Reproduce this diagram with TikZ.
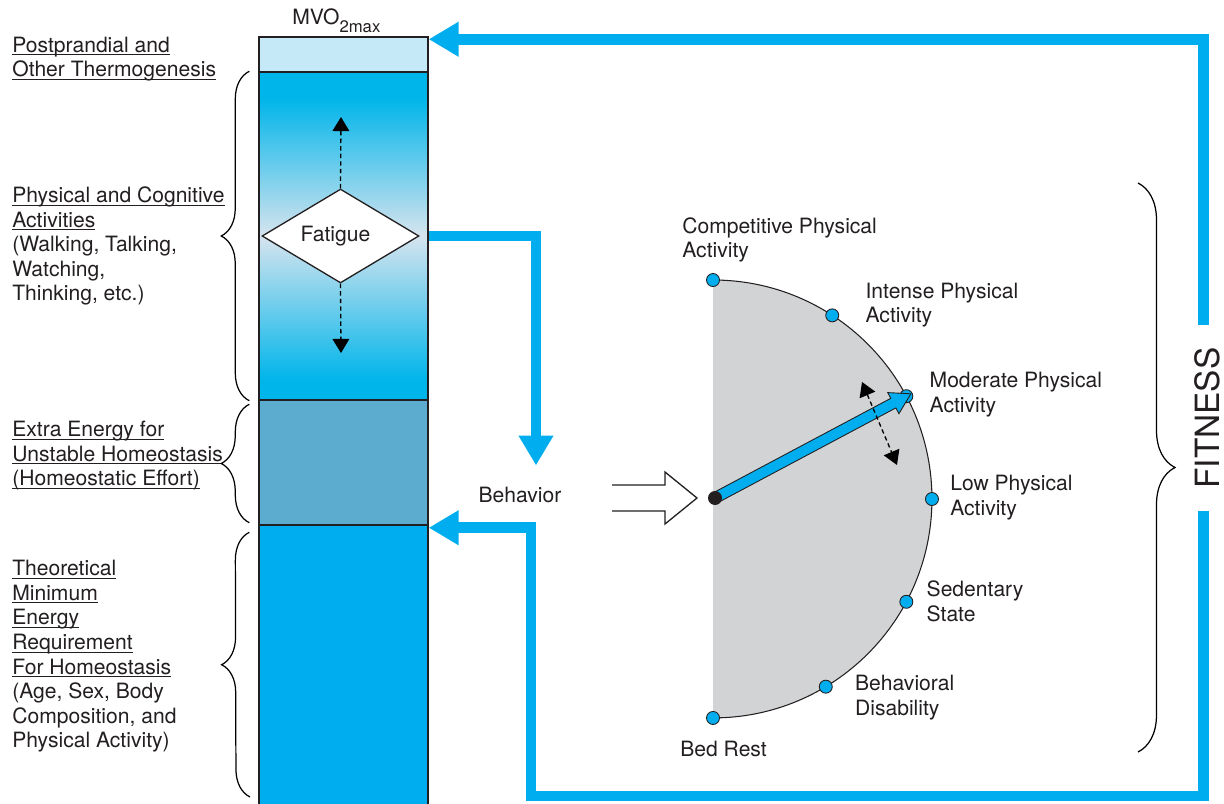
\documentclass[tikz,border=0pt]{standalone}
\usepackage{fontspec}
\setmainfont{TeX Gyre Heros}
\usepackage{tikz}
\usetikzlibrary{arrows.meta, positioning, calc, shapes.geometric, shapes.arrows, decorations.pathreplacing}
\usepackage{xcolor}

\definecolor{actcyan}{RGB}{0,181,234}
\definecolor{actpale}{RGB}{214,228,238}
\definecolor{thermoc}{RGB}{198,233,248}
\definecolor{extrac}{RGB}{91,172,207}
\definecolor{minc}{RGB}{0,173,238}
\definecolor{fitblue}{RGB}{0,174,239}
\definecolor{semig}{RGB}{209,211,212}
\definecolor{colline}{RGB}{35,31,32}

\pgfdeclareverticalshading{actshade}{100bp}{color(0bp)=(actcyan); color(28bp)=(actcyan);
  color(50bp)=(actpale); color(71bp)=(actcyan); color(100bp)=(actcyan)}

\newcommand{\uln}[1]{\underline{\smash{#1}}\vphantom{#1}}

\begin{document}
\begin{tikzpicture}[x=0.02cm, y=-0.02cm, font=\fontsize{12}{14}\selectfont, text=colline,
    colbox/.style={draw=colline,line width=0.85pt,minimum width=3.38cm,inner sep=0},
    txt/.style={align=left,inner sep=0,anchor=north west},
    fitarr/.style={draw=fitblue,line width=6pt,-{Triangle[length=17pt,width=18.7pt]}},
    dasharr/.style={line width=0.75pt,dash pattern=on 2.5pt off 1.8pt},
    stdot/.style={circle,draw=colline,fill=fitblue,minimum size=0.26cm,inner sep=0,line width=0.5pt},
    brc/.style={decorate,decoration={brace,amplitude=0.56cm},line width=0.7pt}]
    \useasboundingbox (0,0) rectangle (1224,804);

    % energy column
    \node[colbox,fill=thermoc,minimum height=0.7cm](thermo) at (343.5,54.5){};
    \node[colbox,shade,shading=actshade,minimum height=6.56cm](act) at (343.5,236){};
    \node[colbox,fill=extrac,minimum height=2.5cm](extra) at (343.5,462.5){};
    \node[colbox,fill=minc,minimum height=5.9cm](minreq) at (343.5,672.5){};
    \node[anchor=base west,inner sep=0](mvo) at (292,25){MVO\raisebox{-4pt}{\fontsize{9.5}{10}\selectfont 2max}};

    \node[diamond,draw=colline,fill=white,aspect=1.67,minimum width=3.14cm,minimum height=1.88cm,
      inner sep=0,line width=0.75pt](fatigue) at (340.5,236){Fatigue\hspace*{0.2cm}};
    \coordinate (fatup) at (341,117);
    \coordinate (fatdn) at (341,353);
    \draw[dasharr,-{Triangle[length=8pt,width=9.5pt]}](fatigue.north)--(fatup);
    \draw[dasharr,-{Triangle[length=8pt,width=9.5pt]}](fatigue.south)--(fatdn);

    % left labels
    \node[txt](tthermo) at (12,36.5){\uln{Postprandial and}\\\uln{Other Thermogenesis}};
    \node[txt](tact) at (12,186.5){\uln{Physical and Cognitive}\\\uln{Activities}\\(Walking, Talking,\\Watching,\\Thinking, etc.)};
    \node[txt](textra) at (12,421){\uln{Extra Energy for}\\\uln{Unstable Homeostasis}\\\uln{(Homeostatic Effort)}};
    \node[txt](tmin) at (12,560){\uln{Theoretical}\\\uln{Minimum}\\\uln{Energy}\\\uln{Requirement}\\\uln{For Homeostasis}\\(Age, Sex, Body\\Composition, and\\Physical Activity)};
    \draw[brc]([xshift=-0.18cm]act.south west)--([xshift=-0.18cm]act.north west);
    \draw[brc]([shift={(-9,-3)}]extra.south west)--([shift={(-9,5)}]extra.north west);
    \draw[brc](250,797)--([shift={(-9,8)}]minreq.north west);

    % behaviour
    \node[anchor=base](beh) at (520,502){Behavior};
    \coordinate (holtip) at (697,498);
    \draw[colline,line width=0.75pt,line join=miter](holtip)++(-85,-13)--++(53,0)--++(0,-13)--(holtip)
      --++(-32,26)--++(0,-13)--++(-53,0);

    % activity semicircle
    \coordinate (ctr) at (713,499);
    \fill[semig](ctr)++(0,-219) arc[start angle=90,end angle=-90,radius=4.38cm]--cycle;
    \draw[line width=0.6pt,colline](ctr)++(0,-219) arc[start angle=90,end angle=-90,radius=4.38cm];
    \foreach \ang/\nm in {90/comp,57/int,28/mod,0/low,-28/sed,-59/dis,-90/bed}
      \node[stdot](d\nm) at ($(ctr)+(\ang:4.38cm)$){};

    \node[txt](lcomp) at ($(dcomp)+(-31,-63)$){Competitive Physical\\Activity};
    \node[txt](lint) at ($(dint)+(33,-33)$){Intense Physical\\Activity};
    \node[txt](lmod) at ($(dmod)+(23,-24)$){Moderate Physical\\Activity};
    \node[txt](llow) at ($(dlow)+(18,-24)$){Low Physical\\Activity};
    \node[txt](lsed) at ($(dsed)+(20,-21)$){Sedentary\\State};
    \node[txt](ldis) at ($(ddis)+(29,-12)$){Behavioral\\Disability};
    \node[txt](lbed) at ($(dbed)+(-33,23)$){Bed Rest};

    \coordinate (piv) at (715,498);
    \path(piv)--(dmod.center) node[midway,sloped,single arrow,draw=colline,fill=fitblue,line width=0.5pt,
      inner sep=0.1cm,minimum height=4.36cm,single arrow head extend=0.13cm,single arrow tip angle=62]{};
    \node[circle,fill=colline,minimum size=0.28cm,inner sep=0](cd) at (piv){};
    \coordinate (swa) at (862,382);
    \coordinate (swb) at (897,465);
    \draw[dasharr,{Triangle[length=8pt,width=9.5pt]}-{Triangle[length=8pt,width=9.5pt]}](swa)--(swb);

    % fitness feedback
    \node[rotate=90,inner xsep=0.44cm,inner ysep=0,font=\fontsize{19}{20}\selectfont](fit) at (1207,418){FITNESS};
    \draw[brc,decoration={brace,amplitude=0.74cm}](1138,183)--(1138,752);
    \draw[fitarr]([xshift=-0.07cm]fit.east)|-([yshift=-0.06cm]thermo.north east);
    \draw[fitarr]([xshift=-0.07cm]fit.west)|-(531,796)|-([yshift=-0.04cm]extra.south east);
    \draw[fitarr](fatigue.east-|act.east)-|([shift={(16,-15)}]beh.north);
  \end{tikzpicture}
\end{document}
